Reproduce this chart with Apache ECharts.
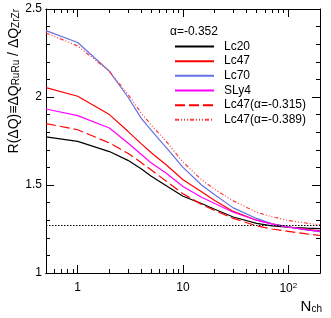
<!DOCTYPE html>
<html>
<head>
<meta charset="utf-8">
<script src="https://cdn.jsdelivr.net/npm/echarts@6/dist/echarts.min.js"></script>
<style>html,body{margin:0;padding:0;background:#fff}#c{width:331px;height:318px}</style>
</head>
<body>
<div id="c"></div>
<script>
const nch = [0.5, 1, 2, 3, 4, 5, 7, 10, 15, 20, 30, 50, 70, 100, 150, 200];
const lc20 = [1.773, 1.748, 1.69, 1.64, 1.592, 1.55, 1.494, 1.436, 1.395, 1.362, 1.318, 1.282, 1.268, 1.26, 1.255, 1.252];
const lc47 = [2.053, 2.004, 1.90, 1.805, 1.735, 1.683, 1.612, 1.53, 1.462, 1.412, 1.35, 1.30, 1.28, 1.262, 1.248, 1.24];
const lc70 = [2.377, 2.31, 2.146, 2.0, 1.88, 1.81, 1.71, 1.60, 1.50, 1.445, 1.37, 1.31, 1.28, 1.262, 1.245, 1.235];
const sly4 = [1.932, 1.894, 1.824, 1.739, 1.675, 1.625, 1.565, 1.492, 1.43, 1.395, 1.345, 1.30, 1.278, 1.26, 1.245, 1.236];
const lc47a315 = [1.849, 1.814, 1.739, 1.68, 1.628, 1.585, 1.52, 1.45, 1.39, 1.355, 1.31, 1.268, 1.25, 1.237, 1.222, 1.213];
const lc47a389 = [2.364, 2.29, 2.146, 2.015, 1.91, 1.84, 1.745, 1.63, 1.53, 1.475, 1.41, 1.345, 1.32, 1.298, 1.283, 1.273];
const refLevel = 1.266;
const seriesNames = ['Lc20', 'Lc47', 'Lc70', 'SLy4', 'Lc47(α=-0.315)', 'Lc47(α=-0.389)'];
const xMajorTicks = [1, 10, 100];
const xMinorTicks = [0.6, 0.7, 0.8, 0.9, 2, 3, 4, 5, 6, 7, 8, 9, 20, 30, 40, 50, 60, 70, 80, 90];
const xRange = [0.5, 200];
const yRange = [1, 2.5];

const FONT = "'Liberation Sans', Arial, Helvetica, sans-serif";
const chart = echarts.init(document.getElementById('c'), null, {renderer: 'canvas'});

function pairs(vals) { return nch.map((x, i) => [x, vals[i]]); }

function xAxisDef(position, major, labels) {
  return {
    type: 'log', logBase: 10, position: position,
    min: xRange[0], max: xRange[1],
    axisLine: {show: true, lineStyle: {color: '#000', width: 1}},
    axisTick: {show: true, inside: true, length: major ? 8 : 4, customValues: major ? xMajorTicks : xMinorTicks, lineStyle: {color: '#000', width: 1}},
    axisLabel: {show: labels, customValues: xMajorTicks, margin: 9, color: '#000', fontFamily: FONT, fontSize: 12,
      formatter: v => (Math.abs(v - 100) < 1e-6 ? '{a|10}{b|2}' : String(Math.round(v))),
      rich: {a: {fontFamily: FONT, fontSize: 12, color: '#000'}, b: {fontFamily: FONT, fontSize: 8, color: '#000', verticalAlign: 'top', padding: [0, 0, 6, 0]}}},
    splitLine: {show: false}, minorTick: {show: false}
  };
}
function yAxisDef(position, labels) {
  return {
    type: 'value', position: position, min: yRange[0], max: yRange[1], interval: 0.5,
    axisLine: {show: true, lineStyle: {color: '#000', width: 1}},
    axisTick: {show: true, inside: true, length: 8, lineStyle: {color: '#000', width: 1}},
    minorTick: {show: true, splitNumber: 5, length: 4, lineStyle: {color: '#000', width: 1}},
    axisLabel: {show: labels, margin: 4, color: '#000', fontFamily: FONT, fontSize: 12},
    splitLine: {show: false}, minorSplitLine: {show: false}
  };
}

const styles = [
  {color: '#000000', type: 'solid'},
  {color: '#ff0000', type: 'solid'},
  {color: '#6470e6', type: 'solid'},
  {color: '#ff00ff', type: 'solid'},
  {color: '#ff0000', type: [10, 4]},
  {color: '#ff3b3b', type: [4, 2, 1, 2, 1, 2, 1, 2]}
];
const datasets = [lc20, lc47, lc70, sly4, lc47a315, lc47a389];

const series = datasets.map((d, i) => {
  const s = {
    name: seriesNames[i], type: 'line', data: pairs(d), xAxisIndex: 0, yAxisIndex: 0,
    symbol: 'none', smooth: false, animation: false,
    lineStyle: {color: styles[i].color, width: 1.2, type: styles[i].type},
    itemStyle: {color: styles[i].color}
  };
  if (i === 0) {
    s.markLine = {silent: true, symbol: 'none', animation: false, label: {show: false},
      lineStyle: {type: [1.5, 1.5], color: '#000', width: 1},
      data: [{yAxis: refLevel}]};
  }
  return s;
});

chart.setOption({
  animation: false,
  backgroundColor: '#fff',
  grid: {left: 46, right: 11, top: 9, bottom: 45, containLabel: false},
  xAxis: [xAxisDef('bottom', true, true), xAxisDef('bottom', false, false), xAxisDef('top', true, false), xAxisDef('top', false, false)],
  yAxis: [yAxisDef('left', true), yAxisDef('right', false)],
  legend: {
    orient: 'vertical', left: 169, top: 35.5, itemWidth: 39, itemHeight: 12, itemGap: 2.66,
    data: seriesNames,
    itemStyle: {opacity: 0},
    textStyle: {fontFamily: FONT, fontSize: 12, color: '#000', lineHeight: 12, padding: [0, 0, 0, 5]}
  },
  graphic: [
    {type: 'text', left: 170, top: 26, style: {text: 'α=-0.352', font: '12px ' + FONT, fill: '#000'}},
    {type: 'text', x: 13, y: 9, rotation: Math.PI / 2,
      style: {text: '{m|R(ΔQ)≡ΔQ}{s|RuRu}{m| / ΔQ}{s|ZrZr}', align: 'right', verticalAlign: 'middle',
        rich: {m: {fontFamily: FONT, fontSize: 14, fill: '#000', lineHeight: 17, verticalAlign: 'bottom'},
               s: {fontFamily: FONT, fontSize: 10, fill: '#000', lineHeight: 10, verticalAlign: 'bottom', padding: [0, 0, 0, 0]}}}},
    {type: 'text', x: 322, y: 305, style: {text: '{n|N}{s|ch}', align: 'right', verticalAlign: 'middle',
        rich: {n: {fontFamily: FONT, fontSize: 15, fill: '#000', lineHeight: 18, verticalAlign: 'bottom'},
               s: {fontFamily: FONT, fontSize: 10, fill: '#000', lineHeight: 10, verticalAlign: 'bottom'}}}}
  ],
  series: series
});
</script>
</body>
</html>
